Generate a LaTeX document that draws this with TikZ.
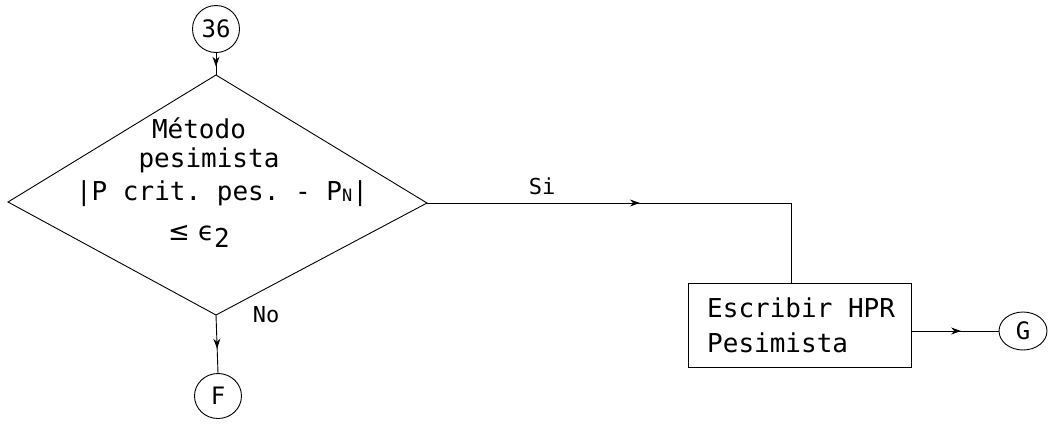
\documentclass[tikz,border=0pt]{standalone}
\usepackage{fontspec}
\setmonofont{DejaVu Sans Mono}
\newfontfamily\symfnt{DejaVu Sans}
\usetikzlibrary{arrows.meta,decorations.markings,shapes.geometric}
\begin{document}
\begin{tikzpicture}[x=1pt,y=-1pt,
  conn/.style={line width=0.9pt},
  midarrow/.style={postaction={decorate},decoration={markings,mark=at position #1 with {\arrow{Stealth[length=10pt,width=7pt]}}}},
  txt/.style={font=\fontsize{26}{30}\selectfont\ttfamily, inner sep=0pt},
  lbl/.style={font=\fontsize{22}{26}\selectfont\ttfamily, inner sep=0pt},
  conncirc/.style={draw, line width=0.9pt, ellipse, inner sep=0pt, font=\fontsize{24}{28}\selectfont\ttfamily},
  procbox/.style={draw, line width=0.9pt, rectangle, inner sep=0pt, minimum width=223pt, minimum height=84pt}
]
\useasboundingbox (0,0) rectangle (1062,434);
% connectors circles
\node[conncirc, minimum width=47pt, minimum height=47pt] (c36) at (216,29) {36};
\node[conncirc, minimum width=47pt, minimum height=45pt] (cF) at (218,396) {F};
\node[conncirc, minimum width=48pt, minimum height=38pt] (cG) at (1023,331) {G};
% decision diamond
\coordinate (dT) at (216,75);
\coordinate (dL) at (8,202);
\coordinate (dR) at (427,203);
\coordinate (dB) at (216,315);
\draw[conn] (dT) -- (dR) -- (dB) -- (dL) -- cycle;
\node[txt, anchor=base] (t1) at (199,138) {Método};
\node[txt, anchor=base] (t2) at (209,167) {pesimista};
\node[txt, anchor=base] (t3) at (222,200) {|P crit. pes. - P\raisebox{-1pt}{\fontsize{17}{17}\selectfont N}|};
\node[txt, anchor=base] (t4) at (199,240) {{\symfnt ≤ ϵ}\raisebox{-7pt}{2}};
% process box
\node[procbox] (box) at (799.5,325) {};
\node[txt, anchor=base west, align=left] (b1) at (707,317) {Escribir HPR};
\node[txt, anchor=base west, align=left] (b2) at (707,352) {Pesimista};
% flow
\coordinate (bx) at (791,203);
\draw[conn, midarrow=0.62] (c36.south) -- (dT);
\draw[conn, midarrow=0.58] (dB) -- (cF.north);
\draw[conn, midarrow=0.48] (dR) -- (bx) -- (bx |- box.north);
\draw[conn, midarrow=0.57] (box.east |- cG.west) -- (cG.west);
% labels
\node[lbl] (no) at (266,315) {No};
\node[lbl] (si) at (542,186) {Si};
\end{tikzpicture}
\end{document}
